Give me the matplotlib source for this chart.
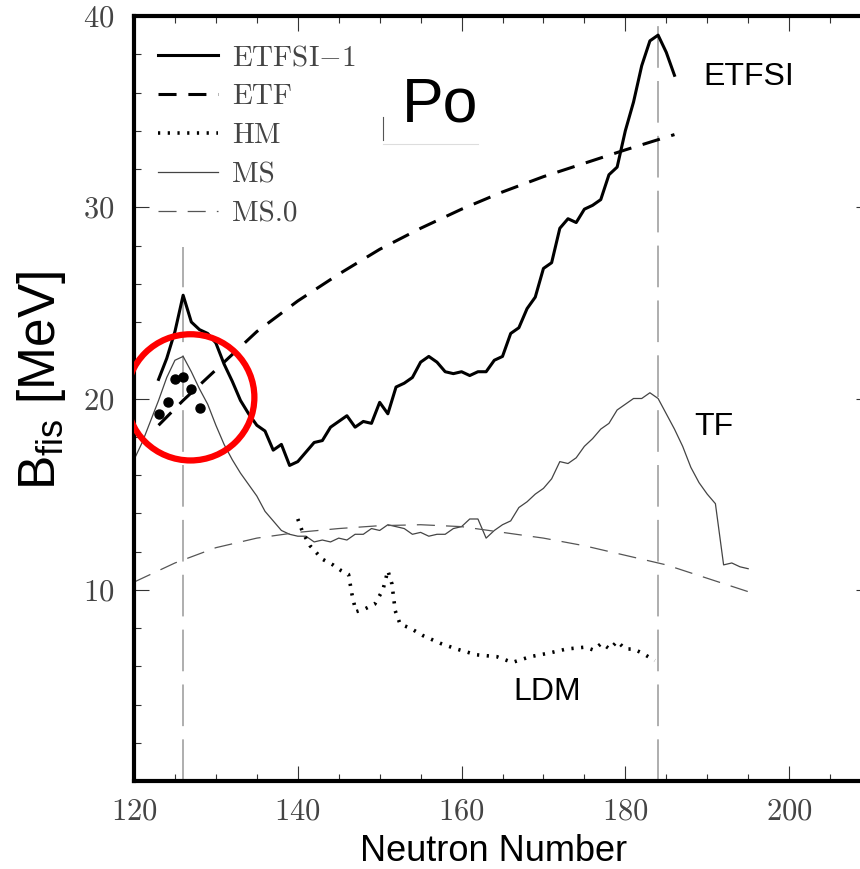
import matplotlib
matplotlib.use('Agg')
import matplotlib.pyplot as plt
from matplotlib.patches import Ellipse

plt.rcParams['font.family'] = ['cmr10', 'DejaVu Serif']
plt.rcParams['mathtext.fontset'] = 'cm'
plt.rcParams['axes.formatter.use_mathtext'] = True
plt.rcParams['lines.scale_dashes'] = False

# ETFSI-1 fission barrier (MeV) vs neutron number
n_etfsi = [123, 124, 125, 126, 127, 128, 129, 130, 131, 132, 133, 134, 135, 136, 137, 138,
           139, 140, 141, 142, 143, 144, 145, 146, 147, 148, 149, 150, 151, 152, 153, 154,
           155, 156, 157, 158, 159, 160, 161, 162, 163, 164, 165, 166, 167, 168, 169, 170,
           171, 172, 173, 174, 175, 176, 177, 178, 179, 180, 181, 182, 183, 184, 185, 186]
b_etfsi = [21.0, 22.1, 23.5, 25.4, 24.0, 23.6, 23.4, 22.9, 21.8, 20.9, 19.9, 19.2, 18.6, 18.3,
           17.3, 17.6, 16.5, 16.7, 17.2, 17.7, 17.8, 18.5, 18.8, 19.1, 18.5, 18.8, 18.7, 19.8,
           19.2, 20.6, 20.8, 21.1, 21.9, 22.2, 21.9, 21.4, 21.3, 21.4, 21.2, 21.4, 21.4, 22.0,
           22.2, 23.4, 23.7, 24.7, 25.3, 26.8, 27.1, 28.9, 29.4, 29.2, 29.9, 30.1, 30.4, 31.7,
           32.1, 34.0, 35.5, 37.4, 38.7, 39.0, 38.1, 36.9]

# ETF
n_etf = [123, 126, 130, 135, 140, 145, 150, 155, 160, 165, 170, 175, 180, 186]
b_etf = [18.6, 19.9, 21.5, 23.5, 25.1, 26.5, 27.8, 28.9, 29.9, 30.8, 31.6, 32.3, 33.0, 33.8]

# HM
n_hm = [140.0, 140.6, 141.5, 143.0, 144.3, 145.3, 146.2, 146.6, 147.1, 148.2, 149.4, 150.4,
        151.0, 151.5, 151.9, 152.5, 153.7, 155.3, 157.4, 159.4, 161.8, 164.3, 166.2, 168.4,
        170.8, 172.8, 175.1, 176.1, 177.1, 178.1, 179.0, 180.0, 181.0, 182.0, 183.6]
b_hm = [13.7, 13.0, 12.3, 11.6, 11.3, 11.0, 10.8, 9.8, 8.85, 9.0, 9.25, 10.0,
        11.0, 10.3, 8.9, 8.2, 8.0, 7.6, 7.2, 6.9, 6.6, 6.5, 6.2, 6.5,
        6.7, 6.9, 7.0, 6.85, 7.2, 6.9, 7.3, 6.9, 6.9, 6.7, 6.3]

# MS
n_ms = list(range(120, 196))
b_ms = [16.8, 17.7, 18.8, 19.9, 21.1, 22.0, 22.2, 21.4, 20.5, 19.7, 18.6, 17.6, 16.8, 16.1,
        15.5, 14.9, 14.1, 13.6, 13.1, 12.9, 12.8, 12.8, 12.5, 12.6, 12.5, 12.7, 12.6, 12.9,
        12.9, 13.2, 13.1, 13.4, 13.3, 13.2, 12.9, 13.0, 12.8, 12.9, 12.9, 13.2, 13.3, 13.7,
        13.7, 12.7, 13.1, 13.4, 13.6, 14.3, 14.6, 15.0, 15.3, 15.8, 16.7, 16.6, 16.9, 17.5,
        17.9, 18.4, 18.7, 19.4, 19.7, 20.0, 20.0, 20.3, 20.0, 19.2, 18.4, 17.5, 16.4, 15.6,
        15.0, 14.5, 11.3, 11.4, 11.2, 11.1]

# MS.0
n_ms0 = [120, 125, 130, 135, 140, 145, 150, 155, 160, 165, 170, 175, 180, 185, 190, 195]
b_ms0 = [10.4, 11.4, 12.2, 12.7, 13.0, 13.2, 13.35, 13.4, 13.3, 13.0, 12.7, 12.3, 11.8, 11.3, 10.6, 9.9]

# experimental points
n_exp = [123.1, 124.1, 125.0, 126.0, 127.0, 128.1]
b_exp = [19.2, 19.8, 21.0, 21.1, 20.5, 19.5]

# magic neutron numbers
magic_n = [126, 184]
magic_top = [27.9, 40]

fig = plt.figure(figsize=(8.6, 8.69), dpi=100)
ax = fig.add_axes([134 / 860, 88 / 869, 737 / 860, 765 / 869])

ax.vlines(magic_n, 0, magic_top, colors='#999999', linewidth=1.1,
          linestyles=[(0, (30, 9.5))], zorder=1)

ax.plot(n_etfsi, b_etfsi, color='black', lw=2.2, label=r'ETFSI$-$1', zorder=3)
ax.plot(n_etf, b_etf, color='black', lw=2.2, ls=(0, (13, 8.5)), label='ETF', zorder=3)
ax.plot(n_hm, b_hm, color='black', lw=2.6, ls=(0, (1.6, 5.4)), label='HM', zorder=3)
ax.plot(n_ms, b_ms, color='#444444', lw=0.9, label='MS', zorder=2)
ax.plot(n_ms0, b_ms0, color='#555555', lw=0.9, ls=(0, (13, 8)), label='MS.0', zorder=2)
ax.plot(n_exp, b_exp, 'o', color='black', markersize=6.5, zorder=4)

ax.add_patch(Ellipse((126.9, 20.06), 15.6, 6.6, fill=False, edgecolor='red', lw=4.5, zorder=5))

# faint remnant marks next to the element label
ax.plot([150.4, 150.4], [33.5, 34.7], color='#555555', lw=0.8)
ax.plot([150.4, 162.0], [33.3, 33.3], color='#dddddd', lw=0.8)

ax.set_xlim(120, 210)
ax.set_ylim(0, 40)
ax.set_xticks([120, 140, 160, 180, 200])
ax.set_xticks(range(120, 211, 5), minor=True)
ax.set_yticks([10, 20, 30, 40])
ax.set_yticks(range(0, 41, 2), minor=True)
ax.tick_params(which='both', direction='in', top=True, right=True, colors='#333333',
               labelcolor='#444444', labelsize=22)
ax.tick_params(which='major', length=11, width=0.8)
ax.tick_params(which='minor', length=5, width=0.8, right=False)
ax.tick_params(axis='x', pad=12)
ax.tick_params(axis='y', pad=14)
for sp in ax.spines.values():
    sp.set_linewidth(3)
    sp.set_color('black')

ax.legend(loc='upper left', bbox_to_anchor=(0.0326, 0.962), borderaxespad=0, borderpad=0,
          frameon=False, fontsize=21, labelcolor='#444444', handlelength=2.05,
          handletextpad=0.5, labelspacing=0.43)

sans = 'Liberation Sans'
ax.text(152.7, 34.5, 'Po', family=sans, fontsize=45, va='baseline')
ax.text(189.5, 36.4, 'ETFSI', family=sans, fontsize=23, va='baseline')
ax.text(188.4, 18.1, 'TF', family=sans, fontsize=23, va='baseline')
ax.text(166.3, 4.24, 'LDM', family=sans, fontsize=23, va='baseline')

fig.text(494 / 860, 8 / 869, 'Neutron Number', family=sans, fontsize=26,
         ha='center', va='baseline')
fig.text(41 / 860, 1 - 381 / 869, r'$\mathregular{B_{fis}}$ [MeV]', family=sans,
         fontsize=37, rotation=90, ha='center', va='center')

fig.savefig('out.png', dpi=100)
